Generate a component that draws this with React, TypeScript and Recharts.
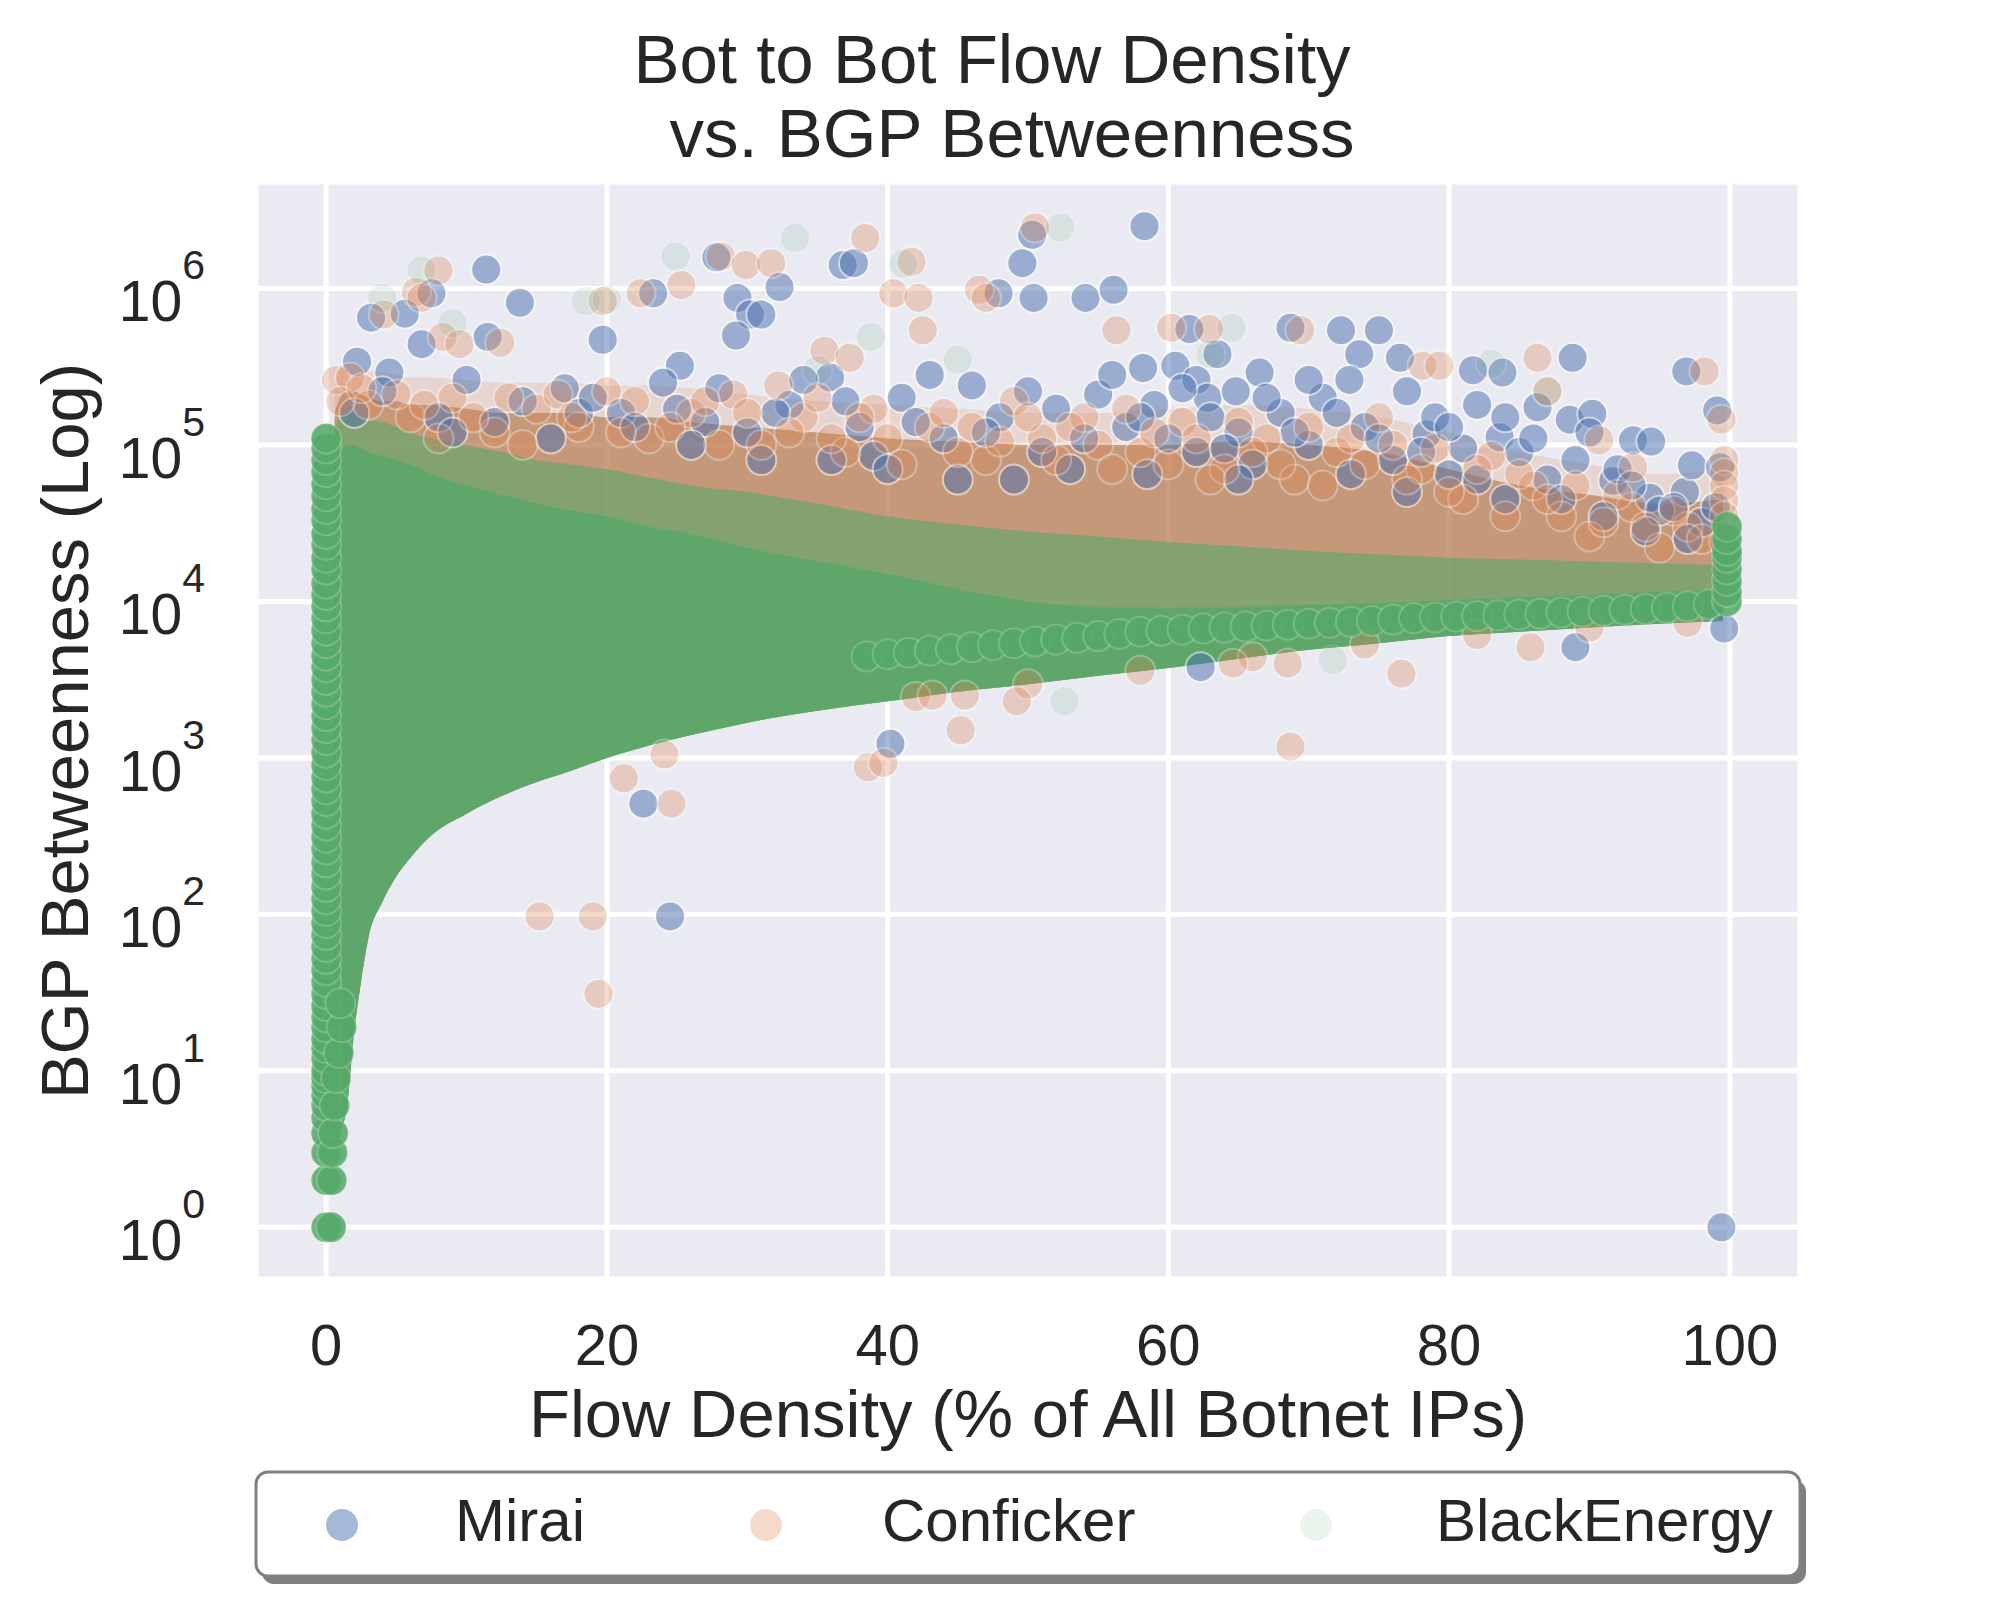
import React from 'react';
import { ComposedChart, Scatter, Area, XAxis, YAxis, CartesianGrid } from 'recharts';

const FONT = '"Liberation Sans", Arial, Helvetica, sans-serif';
const TEXT = '#262626';
const BLUE = '#4C72B0';
const ORANGE = '#DD8452';
const GREEN = '#55A868';

const xTicks = [0, 20, 40, 60, 80, 100];
const yTicks = [1, 10, 100, 1000, 10000, 100000, 1000000];

// Mirai (blue) points: [flow density %, betweenness]
const miraiPoints: [number, number][] = [
  [3.2, 6.5e5], [5.6, 6.9e5], [7.5, 9.3e5], [6.8, 4.4e5], [11.4, 1.32e6], [13.8, 8.1e5], [11.5, 4.9e5], [4.5, 2.9e5], [2.2, 3.4e5],
  [19.7, 4.7e5], [23.3, 9.3e5], [25.2, 3.2e5], [27.8, 1.58e6], [29.3, 8.7e5], [30.2, 6.8e5], [31.0, 6.8e5], [29.2, 5.0e5], [32.3, 1.02e6],
  [35.9, 2.7e5], [36.8, 1.41e6], [37.6, 1.45e6], [47.9, 9.3e5], [49.6, 1.45e6], [50.3, 2.2e6], [50.4, 8.7e5], [54.1, 8.7e5], [56.1, 9.8e5], [58.3, 2.5e6],
  [58.2, 3.1e5], [60.5, 3.2e5], [61.5, 5.5e5], [62.0, 2.6e5], [62.8, 2.0e5], [63.5, 3.8e5], [64.8, 2.2e5], [66.5, 2.9e5], [68.7, 5.6e5],
  [72.3, 5.4e5], [75.0, 5.4e5], [73.6, 3.8e5], [76.5, 3.6e5], [72.9, 2.6e5], [78.4, 1.17e5], [81.7, 3.0e5], [83.8, 2.9e5], [83.6, 1.12e5],
  [86.3, 1.74e5], [88.6, 1.45e5], [88.8, 3.6e5], [90.2, 1.58e5], [91.7, 5.9e4], [93.1, 1.07e5], [94.4, 1.05e5], [94.3, 4.6e4], [96.8, 5.0e4],
  [96.9, 2.95e5], [97.3, 7.4e4], [99.1, 1.66e5], [99.3, 7.2e4],
  [14, 1.9e5], [17, 2.3e5], [21, 1.6e5], [24, 2.5e5], [27, 1.4e5], [33, 1.8e5], [36, 8.0e4], [38, 1.3e5], [41, 2.0e5], [44, 1.1e5],
  [45, 6.0e4], [46, 2.4e5], [48, 1.5e5], [52, 1.7e5], [53, 7.0e4], [55, 2.1e5], [57, 1.3e5], [59, 1.8e5], [62, 9.0e4], [65, 1.2e5],
  [66, 7.5e4], [68, 1.6e5], [70, 1.0e5], [71, 2.0e5], [73, 6.5e4], [74, 1.3e5], [76, 8.0e4], [77, 5.0e4], [79, 1.5e5], [80, 6.5e4],
  [81, 9.5e4], [82, 1.8e5], [84, 4.5e4], [85, 9.0e4], [87, 6.0e4], [89, 8.0e4], [92, 7.0e4], [95, 3.8e4], [98, 3.2e4],
  [2, 1.6e5], [4, 2.2e5], [8, 1.5e5], [9, 1.2e5], [10, 2.6e5], [12, 1.4e5], [16, 1.1e5], [18, 1.6e5], [19, 2.0e5], [22, 1.3e5],
  [25, 1.7e5], [26, 1.0e5], [28, 2.3e5], [30, 1.2e5], [31, 8.0e4], [32, 1.6e5], [34, 2.6e5], [37, 1.9e5], [39, 8.5e4], [40, 7.0e4],
  [42, 1.4e5], [43, 2.8e5], [47, 1.2e5], [49, 6.0e4], [50, 2.2e5], [51, 9.0e4], [54, 1.1e5], [56, 2.8e5], [58, 1.5e5], [58.5, 6.5e4],
  [60, 1.1e5], [61, 2.3e5], [63, 1.5e5], [64, 9.5e4], [65, 6.0e4], [67, 2.0e5], [69, 1.2e5], [70, 2.6e5], [72, 1.6e5], [75, 1.1e5],
  [77, 2.2e5], [78, 9.0e4], [80, 1.3e5], [82, 6.0e4], [84, 1.5e5], [86, 1.1e5], [88, 4.5e4], [90, 1.2e5], [91, 3.5e4], [93, 5.5e4],
  [94, 2.8e4], [96, 4.0e4], [97, 2.5e4], [99, 4.0e4],
  [22.6, 510], [24.5, 97], [40.2, 1230], [62.3, 3800], [89.0, 5100], [99.6, 6700], [99.4, 1],
];

// Conficker (orange) points
const confickerPoints: [number, number][] = [
  [0.7, 2.6e5], [1.7, 2.7e5], [4.1, 6.8e5], [6.4, 9.5e5], [6.8, 8.7e5], [8.0, 1.3e6], [8.3, 4.9e5], [9.5, 4.4e5], [12.4, 4.5e5],
  [19.7, 8.3e5], [22.4, 9.3e5], [25.3, 1.05e6], [28.1, 1.6e6], [29.9, 1.41e6], [31.7, 1.45e6], [32.2, 2.4e5], [35.5, 4.0e5], [37.3, 3.6e5],
  [38.4, 2.1e6], [40.4, 9.3e5], [41.7, 1.48e6], [42.2, 8.7e5], [42.5, 5.4e5], [46.5, 9.8e5], [47.0, 8.7e5], [50.5, 2.45e6], [56.3, 5.4e5],
  [60.2, 5.6e5], [62.9, 5.5e5], [69.4, 5.4e5], [78.1, 3.2e5], [79.3, 3.2e5], [86.3, 3.6e5], [87.0, 2.2e5], [90.7, 1.07e5], [93.1, 7.2e4],
  [98.2, 2.95e5], [99.4, 1.45e5],
  [3, 1.8e5], [6, 1.5e5], [9, 2.0e5], [12, 1.2e5], [15, 1.7e5], [18, 1.3e5], [20, 2.2e5], [23, 1.1e5], [26, 1.6e5], [29, 2.1e5],
  [31, 1.0e5], [34, 1.5e5], [37, 9.0e4], [39, 1.7e5], [43, 1.3e5], [47, 8.0e4], [49, 1.9e5], [51, 1.1e5], [54, 1.5e5], [58, 9.0e4],
  [61, 1.4e5], [64, 7.0e4], [67, 1.1e5], [69, 6.0e4], [72, 9.0e4], [75, 1.5e5], [78, 7.0e4], [81, 4.5e4], [83, 8.5e4], [86, 5.5e4],
  [88, 3.5e4], [90, 2.6e4], [93, 4.0e4], [95, 2.2e4], [97, 3.0e4],
  [1, 1.9e5], [2.5, 2.3e5], [5, 2.1e5], [7, 1.8e5], [8, 1.1e5], [10.5, 1.5e5], [13, 2.0e5], [14, 1.0e5], [16.5, 2.1e5], [17.5, 1.5e5],
  [21, 1.2e5], [22, 1.9e5], [24.5, 1.3e5], [27, 1.9e5], [28, 1.0e5], [30, 1.6e5], [33, 1.2e5], [35, 2.0e5], [36, 1.1e5], [38, 1.5e5],
  [40, 1.1e5], [41, 7.5e4], [44, 1.6e5], [45, 9.0e4], [46, 1.3e5], [48, 1.05e5], [50, 1.5e5], [52, 8.0e4], [53, 1.3e5], [55, 1.0e5],
  [56, 7.0e4], [57, 1.7e5], [59, 1.2e5], [60, 7.5e4], [62, 1.1e5], [63, 6.0e4], [65, 1.4e5], [66, 9.0e4], [68, 7.5e4], [70, 1.3e5],
  [71, 5.5e4], [73, 1.1e5], [74, 7.5e4], [76, 1.0e5], [77, 6.0e4], [79, 9.5e4], [80, 5.0e4], [82, 7.0e4], [84, 3.5e4], [85, 6.5e4],
  [87, 4.5e4], [89, 5.5e4], [91, 3.2e4], [92, 4.8e4], [94, 3.0e4], [96, 3.8e4], [98, 2.5e4],
  [99.6, 8.0e4], [99.6, 6.6e4], [99.6, 5.5e4], [99.6, 4.4e4], [99.6, 3.5e4], [99.6, 2.4e4],
  [42, 2450], [50, 2950], [58, 3600], [66, 4400], [74, 5300], [82, 6100], [90, 6800], [97, 7300],
  [15.2, 97], [19.0, 97], [19.4, 31], [21.2, 740], [24.1, 1050], [24.6, 510], [38.6, 870], [39.7, 930], [43.2, 2500], [45.2, 1500],
  [45.5, 2500], [49.2, 2300], [64.6, 4000], [68.5, 4000], [68.7, 1180], [76.6, 3450], [85.8, 5100],
];

// BlackEnergy (green) sparse, faint points
const blackEnergySparse: [number, number][] = [
  [4.0, 8.7e5], [6.8, 1.3e6], [9, 6.0e5], [18.5, 8.3e5], [20, 8.5e5], [24.9, 1.6e6], [33.4, 2.1e6], [35, 3.0e5], [38.8, 4.9e5],
  [41.1, 1.44e6], [45, 3.5e5], [52.3, 2.45e6], [52.6, 2300], [63.0, 3.8e5], [64.5, 5.6e5], [71.7, 4200], [83.0, 3.3e5], [87, 2.2e5],
];

// BlackEnergy dense stacks: column at 0 %, the bright band and the column at 100 %
const blackEnergyColumnY = [
  1, 2, 3, 4, 5, 6, 7, 8, 9, 10, 12, 14, 16, 19, 22, 26, 31, 37, 44, 52, 62, 74, 88, 105, 125, 150, 180, 215, 260, 310, 370, 440,
  530, 630, 750, 900, 1080, 1300, 1550, 1850, 2200, 2650, 3150, 3800, 4500, 5400, 6500, 7800, 9300, 11000, 13000, 16000, 19000,
  23000, 27000, 33000, 39000, 47000, 56000, 67000, 80000, 95000, 110000,
];
const blackEnergyRing: [number, number][] = [
  [0.35, 1], [0.4, 2], [0.45, 3], [0.5, 4], [0.6, 6], [0.7, 9], [0.9, 13], [1.1, 19], [1.0, 27],
];
const blackEnergyBand: [number, number][] = [
  [38.5, 4450], [40, 4600], [41.5, 4700], [43, 4850], [44.5, 4950], [46, 5100], [47.5, 5250], [49, 5400], [50.5, 5550], [52, 5700],
  [53.5, 5850], [55, 6000], [56.5, 6200], [58, 6400], [59.5, 6500], [61, 6600], [62.5, 6700], [64, 6800], [65.5, 6900], [67, 7000],
  [68.5, 7100], [70, 7200], [71.5, 7300], [73, 7400], [74.5, 7500], [76, 7650], [77.5, 7800], [79, 7900], [80.5, 8000], [82, 8050],
  [83.5, 8150], [85, 8250], [86.5, 8350], [88, 8500], [89.5, 8600], [91, 8700], [92.5, 8850], [94, 8950], [95.5, 9100], [97, 9300],
  [98.5, 9600], [99.8, 10000],
  [99.8, 11500], [99.8, 13500], [99.8, 16000], [99.8, 19000], [99.8, 21000], [99.8, 25000], [99.8, 30000],
];

// envelopes of the saturated point cloud
const cloudX = [0.6, 1, 1.5, 2, 2.5, 3, 4, 5, 6, 7.5, 10, 12.5, 15, 17.5, 20, 23, 26, 30, 35, 40, 45, 50, 55, 60, 65, 70, 75, 80, 85, 90, 95, 99.5];
const cloudLow = [3, 4, 6, 18, 38, 70, 120, 175, 230, 320, 440, 570, 700, 830, 1000, 1200, 1400, 1680, 2000, 2300, 2650, 2950, 3350, 3750, 4300, 4900, 5400, 6000, 6400, 6800, 7200, 7500];
const greenInnerTop = [8e4, 9e4, 1.0e5, 1.0e5, 9.5e4, 9e4, 8.5e4, 8e4, 7.5e4, 6.5e4, 5.5e4, 4.8e4, 4.2e4, 3.8e4, 3.5e4, 3.0e4, 2.7e4, 2.2e4, 1.8e4, 1.5e4, 1.2e4, 1.0e4, 9.2e3, 9.0e3, 9.2e3, 9.5e3, 9.8e3, 1.02e4, 1.06e4, 1.1e4, 1.15e4, 1.2e4];
const greenOuterTop = [1.3e5, 1.5e5, 1.6e5, 1.6e5, 1.5e5, 1.45e5, 1.4e5, 1.3e5, 1.2e5, 1.1e5, 1.0e5, 9e4, 8e4, 7.5e4, 7e4, 6.2e4, 5.5e4, 5e4, 4.2e4, 3.5e4, 3.1e4, 2.8e4, 2.6e4, 2.4e4, 2.25e4, 2.1e4, 2.0e4, 1.9e4, 1.85e4, 1.8e4, 1.75e4, 1.7e4];
const hazeTop = [1.6e5, 2.0e5, 2.2e5, 2.2e5, 2.1e5, 2.0e5, 1.9e5, 1.9e5, 1.8e5, 1.8e5, 1.7e5, 1.6e5, 1.6e5, 1.6e5, 1.5e5, 1.5e5, 1.4e5, 1.3e5, 1.2e5, 1.1e5, 1.05e5, 1.0e5, 1.0e5, 1.0e5, 1.05e5, 1.0e5, 9e4, 7e4, 5.5e4, 4.8e4, 4.2e4, 4.5e4];
const hazeOuterTop = [2.4e5, 3.0e5, 3.3e5, 3.3e5, 3.2e5, 3.0e5, 2.9e5, 2.8e5, 2.7e5, 2.7e5, 2.6e5, 2.5e5, 2.5e5, 2.5e5, 2.4e5, 2.4e5, 2.3e5, 2.1e5, 1.9e5, 1.8e5, 1.7e5, 1.6e5, 1.6e5, 1.7e5, 1.8e5, 1.7e5, 1.5e5, 1.2e5, 9e4, 7.5e4, 6.5e4, 7e4];

const toPts = (arr: [number, number][]) => arr.map(([x, y]) => ({ x, y }));
const miraiData = toPts(miraiPoints);
const confickerData = toPts(confickerPoints);
const sparseData = toPts(blackEnergySparse);
const denseData = [
  ...blackEnergyColumnY.map((y) => ({ x: 0, y })),
  ...toPts(blackEnergyRing),
  ...toPts(blackEnergyBand),
];
const cloudData = cloudX.map((x, i) => ({
  x,
  hazeOuter: [cloudLow[i], hazeOuterTop[i]],
  haze: [cloudLow[i], hazeTop[i]],
  greenOuter: [cloudLow[i], greenOuterTop[i]],
  greenInner: [cloudLow[i], greenInnerTop[i]],
}));

const R = 15;
const dot = (color: string, alpha: number) => (props: any) => {
  if (props.cx == null || props.cy == null) return <g />;
  return <circle cx={props.cx} cy={props.cy} r={R} fill={color} stroke="#ffffff" strokeWidth={2} opacity={alpha} />;
};
const denseDot = (props: any) => {
  if (props.cx == null || props.cy == null) return <g />;
  return (
    <circle cx={props.cx} cy={props.cy} r={R} fill={GREEN} fillOpacity={0.88} stroke="#ffffff" strokeOpacity={0.2} strokeWidth={2} />
  );
};

const XTick = (props: any) => (
  <text x={props.x} y={1365} textAnchor="middle" fontSize={58} fill={TEXT} fontFamily={FONT}>
    {props.payload.value}
  </text>
);

const YTick = (props: any) => {
  const exp = Math.round(Math.log10(props.payload.value));
  return (
    <text x={205} y={props.y + 33} textAnchor="end" fontSize={57} fill={TEXT} fontFamily={FONT}>
      10
      <tspan dy={-42} fontSize={41}>{exp}</tspan>
    </text>
  );
};

export default function App() {
  return (
    <div style={{ position: 'absolute', left: 0, top: 0, width: 2000, height: 1600, background: '#ffffff' }}>
      <ComposedChart width={2000} height={1600} margin={{ top: 182, right: 200, bottom: 261, left: 106 }}>
        <CartesianGrid fill="#EAEAF2" stroke="#FFFFFF" strokeWidth={5} />
        <XAxis
          type="number"
          dataKey="x"
          domain={[-5, 105]}
          ticks={xTicks}
          interval={0}
          allowDataOverflow
          axisLine={false}
          tickLine={false}
          height={60}
          tick={XTick}
        />
        <YAxis
          type="number"
          dataKey="y"
          scale="log"
          domain={[0.4677, 4786300]}
          ticks={yTicks}
          interval={0}
          allowDataOverflow
          axisLine={false}
          tickLine={false}
          width={150}
          tick={YTick}
        />
        <Area data={cloudData} dataKey="hazeOuter" type="monotone" stroke="none" fill={ORANGE} fillOpacity={0.2} isAnimationActive={false} />
        <Area data={cloudData} dataKey="haze" type="monotone" stroke="none" fill="#B77E55" fillOpacity={0.7} isAnimationActive={false} />
        <Scatter name="Mirai" data={miraiData} dataKey="y" shape={dot(BLUE, 0.5)} isAnimationActive={false} />
        <Scatter name="Conficker" data={confickerData} dataKey="y" shape={dot(ORANGE, 0.3)} isAnimationActive={false} />
        <Area data={cloudData} dataKey="greenOuter" type="monotone" stroke="none" fill={GREEN} fillOpacity={0.58} isAnimationActive={false} />
        <Area data={cloudData} dataKey="greenInner" type="monotone" stroke="none" fill={GREEN} fillOpacity={0.8} isAnimationActive={false} />
        <Scatter name="BlackEnergy dense" data={denseData} dataKey="y" shape={denseDot} isAnimationActive={false} />
        <Scatter name="BlackEnergy" data={sparseData} dataKey="y" shape={dot(GREEN, 0.12)} isAnimationActive={false} />
      </ComposedChart>
      <svg width={2000} height={1600} style={{ position: 'absolute', left: 0, top: 0, pointerEvents: 'none' }} fontFamily={FONT}>
        <text x={992} y={83} textAnchor="middle" fontSize={69} fill={TEXT}>Bot to Bot Flow Density</text>
        <text x={1012} y={157} textAnchor="middle" fontSize={69} fill={TEXT}>vs. BGP Betweenness</text>
        <text x={1028} y={1437} textAnchor="middle" fontSize={67} fill={TEXT}>Flow Density (% of All Botnet IPs)</text>
        <text transform="translate(88,731) rotate(-90)" textAnchor="middle" fontSize={67} fill={TEXT}>BGP Betweenness (Log)</text>
        <rect x={262} y={1480} width={1544} height={104} rx={12} fill="#7f7f7f" />
        <rect x={256} y={1472} width={1544} height={104} rx={12} fill="#ffffff" stroke="#808080" strokeWidth={3} />
        <circle cx={342} cy={1525} r={16} fill={BLUE} opacity={0.5} />
        <text x={455} y={1541} fontSize={60} fill={TEXT}>Mirai</text>
        <circle cx={766} cy={1525} r={16} fill={ORANGE} opacity={0.3} />
        <text x={882} y={1541} fontSize={60} fill={TEXT}>Conficker</text>
        <circle cx={1316} cy={1525} r={16} fill={GREEN} opacity={0.12} />
        <text x={1436} y={1541} fontSize={60} fill={TEXT}>BlackEnergy</text>
      </svg>
    </div>
  );
}
